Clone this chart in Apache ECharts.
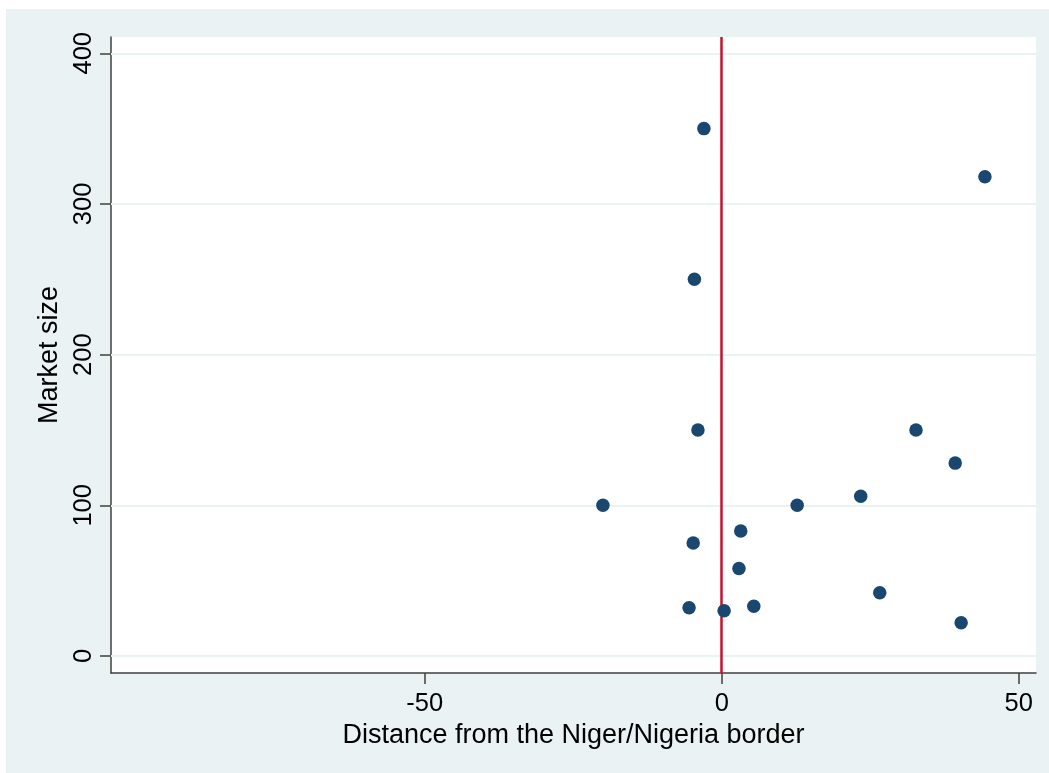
<!DOCTYPE html>
<html>
<head>
<meta charset="utf-8">
<script src="https://cdn.jsdelivr.net/npm/echarts@6/dist/echarts.min.js"></script>
<style>
  html, body { margin: 0; padding: 0; background: #ffffff; }
  #bg { position: absolute; left: 6px; top: 9px; right: 0; bottom: 0; background: #EAF2F3; }
  #chart { position: absolute; left: 0; top: 0; width: 1049px; height: 773px; }
</style>
</head>
<body>
<div id="bg"></div>
<div id="chart"></div>
<script>
// Distance from border (x) and market size (y)
const distance = [-3.0, 44.3, -4.6, -4.0, 32.7, 39.3, 23.4, -20.0, 12.7, 3.2, -4.8, 2.9, -5.5, 0.4, 5.4, 26.6, 40.3];
const marketSize = [350, 318, 250, 150, 150, 128, 106, 100, 100, 83, 75, 58, 32, 30, 33, 42, 22];
const xTicks = [-50, 0, 50];
const yTicks = [0, 100, 200, 300, 400];
const borderAt = 0;

const points = distance.map((d, i) => [d, marketSize[i]]);
const font = 'Liberation Sans, Arial, sans-serif';

const chart = echarts.init(document.getElementById('chart'));
chart.setOption({
  backgroundColor: 'transparent',
  animation: false,
  grid: {
    left: 111, right: 13, top: 37, bottom: 100,
    show: true, backgroundColor: '#ffffff', borderWidth: 0
  },
  xAxis: {
    type: 'value',
    min: -102.8, max: 52.9,
    name: 'Distance from the Niger/Nigeria border',
    nameLocation: 'middle',
    nameGap: 41,
    nameTextStyle: { fontFamily: font, fontSize: 27, color: '#000' },
    axisLine: { show: true, onZero: false, lineStyle: { color: '#404040', width: 1.5 } },
    axisTick: { show: true, length: 11, inside: false, customValues: xTicks, lineStyle: { color: '#404040', width: 1.5 } },
    axisLabel: { customValues: xTicks, fontFamily: font, fontSize: 25.5, color: '#000', margin: 18 },
    splitLine: { show: false }
  },
  yAxis: {
    type: 'value',
    min: -11.3, max: 410.8,
    name: 'Market size',
    nameLocation: 'middle',
    nameGap: 41,
    nameRotate: 90,
    nameTextStyle: { fontFamily: font, fontSize: 27, color: '#000' },
    axisLine: { show: true, onZero: false, lineStyle: { color: '#404040', width: 1.5 } },
    axisTick: { show: true, length: 11, inside: false, customValues: yTicks, lineStyle: { color: '#404040', width: 1.5 } },
    axisLabel: { customValues: yTicks, rotate: 90, fontFamily: font, fontSize: 25.5, color: '#000', margin: 14 },
    splitLine: { show: false }
  },
  series: [
    {
      type: 'scatter',
      data: points,
      symbol: 'circle',
      symbolSize: 13.5,
      itemStyle: { color: '#1A476F', opacity: 1 },
      z: 5,
      markLine: {
        silent: true,
        symbol: ['none', 'none'],
        label: { show: false },
        animation: false,
        data: yTicks.map(v => ({ yAxis: v, lineStyle: { color: '#EAF2F3', width: 2.2, type: 'solid' } }))
          .concat([{ xAxis: borderAt, lineStyle: { color: '#C8102E', width: 2.5, type: 'solid' } }]),
        z: 1
      }
    }
  ]
});
</script>
</body>
</html>
